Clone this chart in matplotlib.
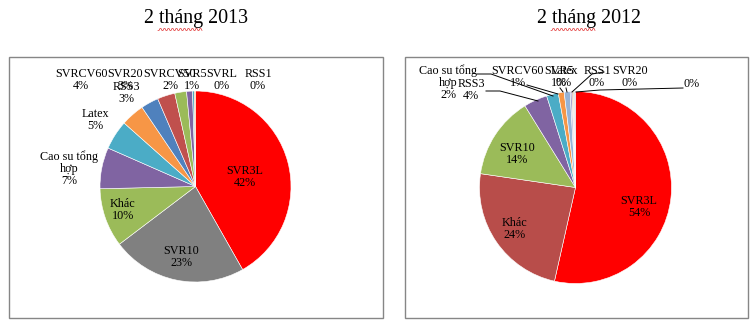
import numpy as np
import matplotlib
matplotlib.use("Agg")
import matplotlib.pyplot as plt
from matplotlib.patches import Rectangle
from matplotlib.lines import Line2D

# ---------------- data ----------------
titles = ["2 tháng 2013", "2 tháng 2012"]

cats_2013 = ["SVR3L", "SVR10", "Khác", "Cao su tổng\nhợp", "Latex", "SVRCV60",
             "RSS3", "SVR20", "SVRCV50", "SVR5", "SVRL", "RSS1"]
vals_2013 = [42, 23, 10, 7, 5, 4, 3, 3, 2, 1, 0.3, 0.2]

cats_2012 = ["SVR3L", "Khác", "SVR10", "RSS3", "Cao su tổng\nhợp", "SVRCV60",
             "SVR5", "Latex", "RSS1", "SVR20", ""]
vals_2012 = [54, 24, 14, 4, 2, 1, 1, 0.3, 0.2, 0.2, 0.2]

# ---------------- styles / layout ----------------
colors_2013 = ["#FF0000", "#808080", "#9BBB59", "#8064A2", "#4BACC6", "#F79646",
               "#4F81BD", "#C0504D", "#9BBB59", "#8064A2", "#4BACC6", "#F79646"]
colors_2012 = ["#FF0000", "#B84D4A", "#9BBB59", "#8064A2", "#4BACC6", "#F79646",
               "#95B3D7", "#A5A5D0", "#D99694", "#C3D69B", "#B3A2C7"]

W, H = 756, 326
FONT = "Liberation Serif"
plt.rcParams["font.family"] = [FONT, "DejaVu Serif"]

# label centres in image pixels (layout)
lab_pos_2013 = [(245, 177), (181, 257), (123, 210), (69, 169), (95, 120), (81, 80),
                (126, 93), (125, 80), (170, 80), (192, 80), (222, 80), (258, 80)]
lab_pos_2012 = [(639, 207), (515, 229), (517, 154), (471, 90), (448, 83), (518, 77),
                (559, 77), (564, 77), (597, 77), (630, 77), (692, 84)]
# leader lines (label end -> slice edge) for the 2012 chart, image pixels
leaders_2012 = {
    4: [(477, 74), (491, 74), (553, 96)],
    3: [(486, 91), (500, 91), (538, 101)],
    5: [(527, 85), (558, 94)],
    6: [(560, 88), (563, 92)],
    7: [(566, 88), (567, 92)],
    8: [(604, 72), (592, 74), (572, 92)],
    10: [(683, 88), (600, 90), (576, 92)],
}

pies = [
    dict(vals=vals_2013, cats=cats_2013, cols=colors_2013, pos=lab_pos_2013,
         centre=(195.5, 186.5), r=95.5, box=(9, 57, 383, 318), title_x=196,
         leaders={}),
    dict(vals=vals_2012, cats=cats_2012, cols=colors_2012, pos=lab_pos_2012,
         centre=(575.5, 187.5), r=96.0, box=(405, 57, 748, 318), title_x=589,
         leaders=leaders_2012),
]

fig = plt.figure(figsize=(W / 100, H / 100), dpi=100)
fig.patch.set_facecolor("white")


def fp(x, y):
    return (x / W, 1 - y / H)


for i, p in enumerate(pies):
    x0, y0, x1, y1 = p["box"]
    fig.patches.append(Rectangle(fp(x0, y1), (x1 - x0) / W, (y1 - y0) / H,
                                 transform=fig.transFigure, fill=False,
                                 edgecolor="#868686", linewidth=1.0, zorder=0))
    cx, cy = p["centre"]
    r = p["r"]
    ax = fig.add_axes([(cx - r) / W, (H - cy - r) / H, 2 * r / W, 2 * r / H])
    ax.pie(p["vals"], colors=p["cols"], startangle=90, counterclock=False,
           wedgeprops=dict(edgecolor="white", linewidth=0.4))
    ax.set_xlim(-1, 1)
    ax.set_ylim(-1, 1)
    ax.set_aspect("equal")
    ax.axis("off")

    for j, (cat, v) in enumerate(zip(p["cats"], p["vals"])):
        txt = f"{cat}\n{v:.0f}%" if cat else f"{v:.0f}%"
        lx, ly = p["pos"][j]
        fig.text(*fp(lx, ly), txt, ha="center", va="center", fontsize=8.7,
                 linespacing=1.0, color="black")
    for j, pts in p["leaders"].items():
        xs = [fp(a, b)[0] for a, b in pts]
        ys = [fp(a, b)[1] for a, b in pts]
        fig.lines.append(Line2D(xs, ys, transform=fig.transFigure,
                                color="black", linewidth=0.7))

    fig.text(*fp(p["title_x"], 18), titles[i], ha="center", va="center",
             fontsize=14.4, color="black")
    # spell-check squiggle under "tháng"
    sx0 = p["title_x"] - 38
    xs = np.linspace(sx0, sx0 + 44, 45)
    ys = 29.5 + 1.0 * np.where((np.arange(45) // 2) % 2 == 0, 1, -1)
    fig.lines.append(Line2D(xs / W, 1 - ys / H, transform=fig.transFigure,
                            color="#E03030", linewidth=0.5))

fig.savefig("out.png", dpi=100, facecolor="white")
